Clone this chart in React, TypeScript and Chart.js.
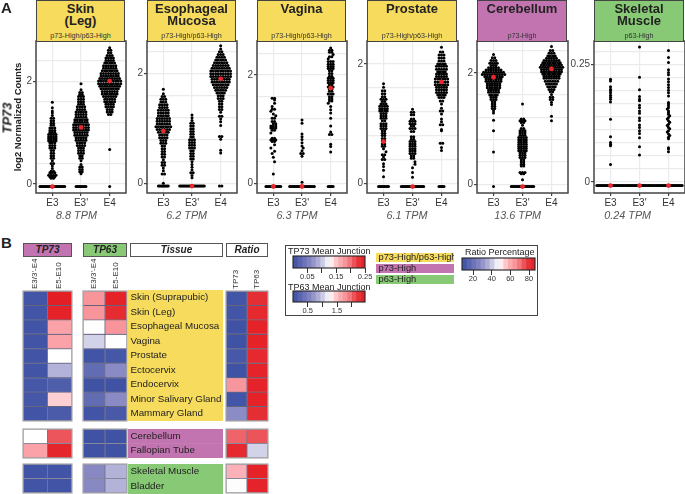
import React, { useEffect, useRef } from "react";
import { Chart, registerables } from "chart.js";

Chart.register(...registerables);

type Row = [number, number, number?];

// ---- panel A: rows are [log2 counts, number of samples in that swarm row, optional shift]
const skinE3: Row[] = [[-.05,11],[-.05,10],[.11,2],[.14,3],[.17,4],[.22,3],[.25,2],[.3,1],[.35,1],[.4,2],[.45,1],[.5,2],[.55,2],[.6,2],[.65,2],[.7,3],[.75,3],[.8,3],[.84,4],[.88,4],[.92,4],[.96,4],[1,3],[1.04,3],[1.09,3],[1.14,2],[1.18,2],[1.23,2],[1.28,2],[1.33,1],[1.38,1],[1.42,1],[1.48,1],[1.59,1]];
const skinE3p: Row[] = [[-.05,5],[-.05,4],[.2,1],[.24,2],[.28,2],[.33,2],[.38,1],[.45,1],[.5,2],[.55,2],[.6,3],[.65,3],[.7,3],[.75,4],[.8,4],[.85,5],[.9,5],[.95,6],[1,6],[1.05,7],[1.1,7],[1.15,7],[1.2,6],[1.25,6],[1.3,5],[1.35,5],[1.4,5],[1.45,4],[1.5,4],[1.55,3],[1.6,3],[1.65,3],[1.7,3],[1.74,2],[1.78,2],[1.83,1],[1.95,1]];
const skinE4: Row[] = [[-.05,1],[.67,1],[1.35,2],[1.4,3],[1.45,3],[1.5,4],[1.55,4],[1.6,5],[1.65,5],[1.7,6],[1.75,7],[1.8,7],[1.85,8],[1.9,9],[1.95,10],[2,10],[2.05,9],[2.1,8],[2.15,8],[2.2,7],[2.25,6],[2.3,6],[2.35,5],[2.4,4],[2.45,4],[2.5,3],[2.55,2],[2.6,2],[2.65,1]];

const esoE3: Row[] = [[-.05,5],[-.05,4],[0,1],[.17,2],[.23,1],[.28,1],[.33,2],[.38,2],[.43,1],[.48,2],[.53,2],[.58,2],[.63,2],[.68,2],[.73,3],[.78,3],[.83,4],[.88,4],[.93,5],[.98,6],[1.03,7],[1.08,6],[1.13,6],[1.18,6],[1.23,5],[1.28,5],[1.33,5],[1.38,4],[1.43,4],[1.48,3],[1.53,3],[1.58,2],[1.63,1],[1.71,1]];
const esoE3p: Row[] = [[-.05,11],[-.05,10],[.1,1],[.14,1],[.19,2],[.24,1],[.29,1],[.34,1],[.39,1],[.44,2],[.49,2],[.54,2],[.59,2],[.64,3],[.69,3],[.74,3],[.79,3],[.84,2],[.89,2],[.94,2],[.99,2],[1.04,2],[1.09,2],[1.14,1],[1.19,1],[1.24,1]];
const esoE4: Row[] = [[-.05,2],[.55,1],[.6,1],[.8,1],[.85,2],[1.05,1],[1.12,1],[1.17,1],[1.22,2],[1.29,1],[1.34,2],[1.39,2],[1.44,2],[1.49,2],[1.54,3],[1.59,3],[1.64,4],[1.69,5],[1.74,6],[1.79,7],[1.84,8],[1.89,8],[1.94,9],[1.99,9],[2.04,9],[2.09,8],[2.14,7],[2.19,6],[2.24,5],[2.29,4],[2.34,3],[2.39,2],[2.44,1],[2.5,1]];

const vagE3: Row[] = [[-.06,7],[-.06,6],[.17,1],[.4,1,.5],[.48,1],[.55,1,-.5],[.59,1,.5],[.65,1,-1],[.71,1,.5],[.77,2],[.8,3],[.83,2],[.93,1,-1],[.98,2],[1.02,3],[1.06,3],[1.1,2,.5],[1.14,2],[1.2,2],[1.25,1,1],[1.28,1],[1.33,1,-1],[1.37,2],[1.42,1,-.5],[1.48,1,.5],[1.54,1,.5],[1.57,2]];
const vagE3p: Row[] = [[-.06,11],[-.06,10],[.02,1],[.5,1],[.55,2],[.6,1],[.65,1,.5],[.69,1],[.75,1],[.81,1],[.86,1],[.91,1],[1.11,1],[1.17,1]];
const vagE4: Row[] = [[-.06,3],[-.06,2],[.58,1],[.68,1],[.72,1],[.9,2],[.95,1],[1.06,1],[1.2,1],[1.3,1],[1.36,1],[1.42,1],[1.48,1,-1],[1.52,2],[1.56,2],[1.6,2],[1.65,3],[1.7,2],[1.74,2],[1.78,3],[1.82,2],[1.86,3],[1.9,3],[1.94,3],[1.98,2],[2.03,2],[2.08,2],[2.12,3],[2.16,3],[2.2,3],[2.25,3],[2.3,1,-1],[2.34,2],[2.38,1,1],[2.42,2],[2.46,2],[2.5,1]];

const proE3: Row[] = [[-.055,5],[-.055,4],[.11,1],[.22,1],[.28,1],[.33,1],[.4,2],[.44,1],[.48,2],[.53,1,1],[.58,1],[.62,2],[.66,2],[.71,2],[.75,2],[.8,2],[.84,2],[.88,2],[.92,3],[.96,3],[1,3],[1.05,2],[1.09,3],[1.13,3],[1.17,3],[1.21,4],[1.25,4],[1.29,4],[1.33,3],[1.37,2],[1.41,3],[1.45,2],[1.5,2],[1.55,2],[1.61,1],[1.67,1]];
const proE3p: Row[] = [[-.055,10],[-.055,9],[.1,1],[.18,1],[.26,1],[.32,1,1],[.36,1,1],[.42,2],[.46,2],[.5,3],[.54,3],[.58,3],[.62,3],[.66,3],[.7,3],[.74,2],[.78,2],[.87,2],[.92,3],[.96,2],[1,3],[1.04,3],[1.08,2],[1.15,2],[1.19,2],[1.24,1]];
const proE4: Row[] = [[-.055,3],[-.055,2],[.55,1],[.6,1],[.67,2],[.88,1],[.9,1],[.98,2],[1.03,1],[1.08,1],[1.16,1],[1.21,2],[1.26,1],[1.33,1],[1.38,2],[1.44,3],[1.48,4],[1.52,5],[1.57,5],[1.61,5],[1.65,6],[1.7,6],[1.75,6],[1.79,5],[1.83,5],[1.87,4],[1.91,5],[1.96,5],[2,4],[2.05,3],[2.1,3],[2.15,3],[2.2,2],[2.28,1]];

const cerE3: Row[] = [[-.04,1],[.58,1],[.96,1],[1.15,1],[1.28,1],[1.32,1],[1.36,2],[1.4,2],[1.44,2],[1.48,2],[1.52,3],[1.56,3],[1.6,4],[1.65,5],[1.69,5],[1.73,6],[1.77,6],[1.81,6],[1.85,7],[1.89,7],[1.93,8],[1.97,10],[2.01,9],[2.05,7],[2.09,5],[2.13,3],[2.17,4],[2.22,3],[2.27,2],[2.33,1]];
const cerE3p: Row[] = [[-.04,10],[-.04,9],[.08,1],[.19,2],[.21,3],[.33,2],[.36,2],[.4,2],[.44,2],[.48,3],[.52,3],[.56,3],[.6,4],[.64,4],[.68,4],[.72,4],[.76,4],[.8,4],[.84,4],[.88,3],[.92,3],[.96,3],[1,2],[1.06,1],[1.11,2],[1.14,3],[1.17,2],[1.44,1]];
const cerE4: Row[] = [[1.14,1],[1.22,1],[1.43,1],[1.47,1],[1.52,2],[1.56,2],[1.61,1],[1.66,2],[1.7,3],[1.75,4],[1.8,5],[1.85,6],[1.9,7],[1.94,7],[1.98,8],[2.02,9],[2.06,9],[2.1,10],[2.14,9],[2.18,8],[2.22,7],[2.26,5],[2.3,4],[2.35,3],[2.4,2],[2.47,1]];

const musE3: Row[] = [[-.0078,12],[-.0078,11],[.037,1],[.077,1],[.08,1],[.084,1],[.096,1],[.1335,1],[.17,1],[.176,1],[.18,1],[.1847,1],[.19,1],[.1939,1],[.1974,1],[.2024,1],[.215,1],[.2188,1]];
const musE3p: Row[] = [[-.0078,12],[-.0078,11],[.0575,1],[.0746,1],[.094,1],[.103,1],[.109,1],[.116,1],[.121,1],[.131,1],[.136,1],[.146,1],[.151,1],[.158,1],[.163,1],[.1726,1],[.176,1],[.182,1],[.196,1],[.223,1],[.287,1]];
const musE4: Row[] = [[-.0078,12],[-.0078,11],[.064,1],[.07,1],[.073,1],[.092,1],[.095,1],[.099,1,.5],[.102,1],[.106,1,-.5],[.109,1],[.113,1,.5],[.116,1],[.12,1,-.5],[.123,1],[.127,1,.5],[.13,1],[.134,1,-.5],[.137,1],[.141,1,.5],[.144,1],[.148,1],[.151,1],[.155,1,-.5],[.158,1],[.162,1],[.166,1],[.169,1],[.183,1],[.19,1],[.195,1],[.201,1],[.207,1],[.213,1],[.219,1],[.228,1],[.233,1],[.2386,1],[.254,1],[.265,1],[.28,1]];

const isoforms = ["E3", "E3'", "E4"];
const skinMeans = [-.05, 1.1, 2];
const esoMeans = [.95, -.05, 1.9];
const vagMeans = [-.06, -.06, 1.76];
const proMeans = [.7, -.055, 1.7];
const cerMeans = [1.92, -.04, 2.07];
const musMeans = [-.0078, -.0078, -.0078];

const gridA = [0, .4, .8, 1.2, 1.6, 2, 2.4];
const gridMuscle = [0, .0278, .0556, .0833, .1111, .1389, .1667, .1944, .2222, .25, .2778];

// ---- panel B
const tissueA = ["Skin (Suprapubic)", "Skin (Leg)", "Esophageal Mucosa", "Vagina", "Prostate", "Ectocervix", "Endocervix", "Minor Salivary Gland", "Mammary Gland"];
const tissueB = ["Cerebellum", "Fallopian Tube"];
const tissueC = ["Skeletal Muscle", "Bladder"];
const tp73Early = [.005, .005, .004, .004, .004, .004, .008, .008, .004, .125, .17, .004, .004];
const tp73Late = [.25, .245, .17, .17, .125, .09, .015, .145, .012, .21, .24, .004, .004];
const tp63Early = [1.76, 1.76, 1.22, 1.03, .04, .3, .02, .3, .04, .02, .02, .6, .6];
const tp63Late = [2.4, 2.28, 1.76, 1.22, .07, .61, .02, .61, .1, .02, .02, .88, .88];
const ratioTp73 = [10, 10, 9, 9, 11, 9, 64, 10, 28, 72, 82, 58, 47];
const ratioTp63 = [80, 82, 85, 85, 82, 84, 84, 85, 80, 74, 41, 85, 84];

const TP73_DOMAIN: [number, number] = [0, .25];
const TP63_DOMAIN: [number, number] = [0, 2.45];
const RATIO_DOMAIN: [number, number] = [8.2, 86.4];

const palette: [number, number[]][] = [
  [0, [60, 80, 163]], [.25, [138, 138, 196]], [.375, [185, 185, 220]], [.5, [255, 255, 255]],
  [.625, [253, 180, 187]], [.75, [246, 138, 144]], [.9, [230, 50, 55]], [1, [227, 30, 36]],
];
function colorAt(v: number, d: [number, number]) {
  const t = Math.min(1, Math.max(0, (v - d[0]) / (d[1] - d[0])));
  for (let i = 1; i < palette.length; i++) {
    if (t <= palette[i][0]) {
      const [a, ca] = palette[i - 1];
      const [b, cb] = palette[i];
      const k = (t - a) / (b - a);
      return `rgb(${ca.map((c, j) => Math.round(c + (cb[j] - c) * k)).join(",")})`;
    }
  }
  return "rgb(227,30,36)";
}

const YELLOW = "#F6DB5C";
const PURPLE = "#C274B0";
const GREEN = "#87C975";
const FONT = "'Liberation Sans', Arial, sans-serif";
const STEP = 0.086;

const frame = (color: string, width: number) => ({
  id: "frame",
  afterDraw(chart: any) {
    const { left, top, right, bottom } = chart.chartArea;
    const c = chart.ctx;
    c.save();
    c.strokeStyle = color;
    c.lineWidth = width;
    c.strokeRect(left, top, right - left, bottom - top);
    c.restore();
  },
});

function swarm(rows: Row[], cat: number) {
  return rows.flatMap(([y, n, dx = 0]) =>
    Array.from({ length: n }, (_, i) => ({ x: cat + (i - (n - 1) / 2 + dx) * STEP, y })));
}

type Spec = { left: number; top: number; w: number; h: number; config: any };

function panel(left: number, right: number, yMin: number, yMax: number, rows: Row[][], means: number[], grid: number[], labelled: number[], first = false): Spec {
  const yW = first ? 36 : 30;
  return {
    left: left - yW, top: 0, w: yW + right - left + 2, h: 222,
    config: {
      type: "scatter",
      data: {
        datasets: [
          { data: means.map((y, i) => ({ x: i + 1, y })), backgroundColor: "#E8282C", pointRadius: 2.4, pointBorderWidth: 0, order: 0 },
          ...rows.map((r, i) => ({ data: swarm(r, i + 1), backgroundColor: "#000", pointRadius: 1.5, pointBorderWidth: 0, order: 1 })),
        ],
      },
      options: {
        responsive: false, animation: false, events: [],
        layout: { autoPadding: false, padding: { top: 41, right: 1, bottom: 0, left: 0 } },
        plugins: { legend: { display: false }, tooltip: { enabled: false } },
        scales: {
          x: {
            type: "linear", min: .43, max: 3.57,
            afterBuildTicks: (s: any) => { s.ticks = isoforms.map((_, i) => ({ value: i + 1 })); },
            afterFit: (s: any) => { s.height = 29; },
            grid: { color: "#ebebeb", lineWidth: 1.2, tickLength: 3, tickColor: "#444" },
            border: { display: false },
            ticks: { autoSkip: false, maxRotation: 0, padding: 1, color: "#333", font: { family: FONT, size: 10 }, callback: (v: number) => isoforms[v - 1] },
          },
          y: {
            min: yMin, max: yMax,
            afterBuildTicks: (s: any) => { s.ticks = grid.map((value) => ({ value })); },
            afterFit: (s: any) => { s.width = yW; },
            title: first ? { display: true, text: "log2 Normalized Counts", color: "#222", padding: { top: 13, bottom: 0 }, font: { family: FONT, size: 9.5, weight: "bold" } } : { display: false },
            grid: { color: "#ebebeb", lineWidth: 1.2, tickLength: 3, tickColor: (c: any) => (labelled.includes(c.tick?.value) ? "#444" : "transparent") },
            border: { display: false },
            ticks: { autoSkip: false, padding: 1, color: "#444", font: { family: FONT, size: 10 }, callback: (v: number) => (labelled.includes(v) ? String(v) : "") },
          },
        },
      },
      plugins: [frame("#444", 1.5)],
    },
  };
}

function heat(left: number, w: number, top: number, h: number, labels: string[], a: number[], b: number[], d: [number, number], from: number, to: number, head: boolean): Spec {
  const rows = a.slice(from, to).map((_, i) => i + from);
  const HEAD = head ? 33 : 0;
  return {
    left: left - 1, top: top - 1 - HEAD, w: w + 2, h: h + 2 + HEAD,
    config: {
      type: "bar",
      data: {
        labels,
        datasets: rows.map((r) => ({
          data: [1, 1],
          backgroundColor: [colorAt(a[r], d), colorAt(b[r], d)],
          borderColor: "rgba(50,50,85,.62)", borderWidth: .8, borderSkipped: false,
          barPercentage: 1, categoryPercentage: 1,
        })),
      },
      options: {
        responsive: false, animation: false, events: [],
        layout: { autoPadding: false, padding: 1 },
        plugins: { legend: { display: false }, tooltip: { enabled: false } },
        scales: {
          x: {
            stacked: true, display: head, position: "top",
            afterFit: (s: any) => { s.height = HEAD; s.paddingLeft = 0; s.paddingRight = 0; },
            grid: { display: false, drawTicks: false }, border: { display: false },
            ticks: { minRotation: 90, maxRotation: 90, autoSkip: false, padding: 2, labelOffset: 9, color: "#333", font: { family: FONT, size: 8 } },
          },
          y: { stacked: true, display: false, reverse: true, min: 0, max: rows.length },
        },
      },
      plugins: [frame("#aaa", 1.2)],
    },
  };
}

function labelBars(left: number, w: number, top: number, h: number, labels: string[], colors: string[] | string, size: number, pct: number): Spec {
  return {
    left, top, w, h,
    config: {
      type: "bar",
      data: { labels, datasets: [{ data: labels.map(() => 1), backgroundColor: colors, barPercentage: pct, categoryPercentage: 1 }] },
      options: {
        indexAxis: "y", responsive: false, animation: false, events: [],
        layout: { autoPadding: false, padding: 0 },
        plugins: { legend: { display: false }, tooltip: { enabled: false } },
        scales: {
          x: { display: false, min: 0, max: 1 },
          y: {
            afterFit: (s: any) => { s.width = 0; s.paddingTop = 0; s.paddingBottom = 0; },
            grid: { display: false }, border: { display: false },
            ticks: { mirror: true, z: 1, padding: 2.5, color: "#222", autoSkip: false, font: { family: FONT, size } },
          },
        },
      },
    },
  };
}

function colorBar(left: number, w: number, top: number, barH: number, d: [number, number], ticks: number[], shown: number[]): Spec {
  const n = 16;
  const size = (d[1] - d[0]) / n;
  return {
    left: left - 10, top: top - 1, w: w + 20, h: barH + 16,
    config: {
      type: "bar",
      data: {
        labels: ["scale"],
        datasets: Array.from({ length: n }, (_, i) => ({
          data: [[d[0] + i * size, d[0] + (i + 1) * size]],
          backgroundColor: colorAt(d[0] + (i + .5) * size, d),
          barPercentage: 1, categoryPercentage: 1, grouped: false,
        })),
      },
      options: {
        indexAxis: "y", responsive: false, animation: false, events: [],
        layout: { autoPadding: false, padding: { left: 10, right: 10, top: 1, bottom: 0 } },
        plugins: { legend: { display: false }, tooltip: { enabled: false } },
        scales: {
          x: {
            type: "linear", min: d[0], max: d[1],
            afterBuildTicks: (s: any) => { s.ticks = ticks.map((value) => ({ value })); },
            afterFit: (s: any) => { s.height = 15; s.paddingLeft = 0; s.paddingRight = 0; },
            grid: { drawOnChartArea: false, tickLength: 5, tickColor: "#333" }, border: { display: false },
            ticks: { autoSkip: false, maxRotation: 0, padding: -1, color: "#333", font: { family: FONT, size: 7.5 }, callback: (v: number) => (shown.includes(v) ? String(v) : "") },
          },
          y: { display: false },
        },
      },
      plugins: [frame("#222", 1.1)],
    },
  };
}

const specs: Spec[] = [
  panel(36, 125, -.175, 2.78, [skinE3, skinE3p, skinE4], skinMeans, gridA, [0, 2], true),
  panel(147, 236, -.176, 2.587, [esoE3, esoE3p, esoE4], esoMeans, gridA, [0, 2]),
  panel(257, 346, -.18, 2.63, [vagE3, vagE3p, vagE4], vagMeans, gridA, [0, 2]),
  panel(367, 457, -.162, 2.385, [proE3, proE3p, proE4], proMeans, gridA, [0, 2]),
  panel(477, 567, -.156, 2.57, [cerE3, cerE3p, cerE4], cerMeans, gridA, [0, 2]),
  panel(594, 684, -.0236, .3, [musE3, musE3p, musE4], musMeans, gridMuscle, [0, .25]),

  heat(23, 49, 291, 130, ["E3/3'-E4", "E5-E10"], tp73Early, tp73Late, TP73_DOMAIN, 0, 9, true),
  heat(23, 49, 429, 29, ["E3/3'-E4", "E5-E10"], tp73Early, tp73Late, TP73_DOMAIN, 9, 11, false),
  heat(23, 49, 464, 29, ["E3/3'-E4", "E5-E10"], tp73Early, tp73Late, TP73_DOMAIN, 11, 13, false),
  heat(83, 44, 291, 130, ["E3/3'-E4", "E5-E10"], tp63Early, tp63Late, TP63_DOMAIN, 0, 9, true),
  heat(83, 44, 429, 29, ["E3/3'-E4", "E5-E10"], tp63Early, tp63Late, TP63_DOMAIN, 9, 11, false),
  heat(83, 44, 464, 29, ["E3/3'-E4", "E5-E10"], tp63Early, tp63Late, TP63_DOMAIN, 11, 13, false),
  heat(226, 42, 291, 130, ["TP73", "TP63"], ratioTp73, ratioTp63, RATIO_DOMAIN, 0, 9, true),
  heat(226, 42, 429, 29, ["TP73", "TP63"], ratioTp73, ratioTp63, RATIO_DOMAIN, 9, 11, false),
  heat(226, 42, 464, 29, ["TP73", "TP63"], ratioTp73, ratioTp63, RATIO_DOMAIN, 11, 13, false),

  labelBars(128, 95, 290, 131, tissueA, YELLOW, 9.8, 1),
  labelBars(128, 95, 429, 29, tissueB, PURPLE, 9.8, 1),
  labelBars(128, 95, 464, 30, tissueC, GREEN, 9.8, 1),
  labelBars(376, 78, 252, 33, ["p73-High/p63-High", "p73-High", "p63-High"], [YELLOW, PURPLE, GREEN], 9.3, .84),

  colorBar(293, 72, 256, 12, TP73_DOMAIN, [.05, .1, .15, .2, .25], [.05, .15, .25]),
  colorBar(293, 72, 291, 11, [0, 2.45], [.5, 1, 1.5, 2], [.5, 1.5]),
  colorBar(462, 73, 258, 12, RATIO_DOMAIN, [20, 40, 60, 80], [20, 40, 60, 80]),
];

const strips = [
  { left: 36, right: 125, fill: YELLOW, title: ["Skin", "(Leg)"], sub: "p73-High/p63-High", tpm: "8.8 TPM", cx: 76.5 },
  { left: 147, right: 236, fill: YELLOW, title: ["Esophageal", "Mucosa"], sub: "p73-High/p63-High", tpm: "6.2 TPM", cx: 186.7 },
  { left: 257, right: 346, fill: YELLOW, title: ["Vagina"], sub: "p73-High/p63-High", tpm: "6.3 TPM", cx: 297 },
  { left: 367, right: 457, fill: YELLOW, title: ["Prostate"], sub: "p73-High/p63-High", tpm: "6.1 TPM", cx: 407 },
  { left: 477, right: 567, fill: PURPLE, title: ["Cerebellum"], sub: "p73-High", tpm: "13.6 TPM", cx: 517.7 },
  { left: 594, right: 684, fill: GREEN, title: ["Skeletal", "Muscle"], sub: "p63-High", tpm: "0.24 TPM", cx: 627.7 },
];

const heads = [
  { left: 23, w: 49, fill: PURPLE, text: "TP73" },
  { left: 83, w: 44, fill: GREEN, text: "TP63" },
  { left: 130, w: 93, fill: "#fff", text: "Tissue" },
  { left: 226, w: 42, fill: "#fff", text: "Ratio" },
];

const legendTitles = [
  { left: 288, top: 246, text: "TP73 Mean Junction" },
  { left: 288, top: 281.5, text: "TP63 Mean Junction" },
  { left: 465, top: 247, text: "Ratio Percentage" },
];

const abs = (o: React.CSSProperties): React.CSSProperties => ({ position: "absolute", fontFamily: FONT, whiteSpace: "nowrap", boxSizing: "border-box", ...o });

export default function App() {
  const refs = useRef<(HTMLCanvasElement | null)[]>([]);
  useEffect(() => {
    document.body.style.margin = "0";
    const charts = specs.map((s, i) => new Chart(refs.current[i] as HTMLCanvasElement, s.config));
    return () => charts.forEach((c) => c.destroy());
  }, []);
  return (
    <div style={{ position: "relative", width: 685, height: 494, overflow: "hidden", background: "#fff" }}>
      <div style={abs({ left: 285, top: 245, width: 253, height: 71, border: "1.5px solid #444" })} />
      {specs.map((s, i) => (
        <canvas key={i} ref={(el) => { refs.current[i] = el; }} width={s.w} height={s.h}
          style={{ position: "absolute", left: s.left, top: s.top, width: s.w, height: s.h }} />
      ))}
      {strips.map((s) => (
        <React.Fragment key={s.sub + s.tpm}>
          <div style={abs({ left: s.left, top: 0, width: s.right - s.left, height: 41.5, background: s.fill, border: "1.5px solid #444", color: "#222" })}>
            <div style={{ position: "absolute", left: 0, right: 0, top: 1.5, textAlign: "center", fontWeight: "bold", fontSize: 13, lineHeight: "12.7px" }}>
              {s.title.map((t) => <div key={t}>{t}</div>)}
            </div>
            <div style={{ position: "absolute", left: 0, right: 0, top: 31, textAlign: "center", fontSize: 7.2, lineHeight: "8px", color: "#333" }}>{s.sub}</div>
          </div>
          <div style={abs({ left: s.cx - 40, width: 80, top: 209, textAlign: "center", fontStyle: "italic", fontSize: 10.8, lineHeight: "12px", color: "#555" })}>{s.tpm}</div>
        </React.Fragment>
      ))}
      <div style={abs({ left: 1, top: 0, fontWeight: "bold", fontSize: 15, lineHeight: "16px", color: "#222" })}>A</div>
      <div style={abs({ left: 1, top: 235, fontWeight: "bold", fontSize: 15, lineHeight: "16px", color: "#222" })}>B</div>
      <div style={abs({ left: 7, top: 118, transform: "translate(-50%,-50%) rotate(-90deg)", fontWeight: "bold", fontStyle: "italic", fontSize: 13, color: "#222" })}>TP73</div>
      {heads.map((h) => (
        <div key={h.text} style={abs({ left: h.left, top: 243, width: h.w, height: 13.5, background: h.fill, border: "1.5px solid #555", textAlign: "center", fontWeight: "bold", fontStyle: "italic", fontSize: 10, lineHeight: "11px", color: "#222" })}>{h.text}</div>
      ))}
      {legendTitles.map((t) => (
        <div key={t.text} style={abs({ left: t.left, top: t.top, fontSize: 9, lineHeight: "10px", color: "#222" })}>{t.text}</div>
      ))}
    </div>
  );
}
